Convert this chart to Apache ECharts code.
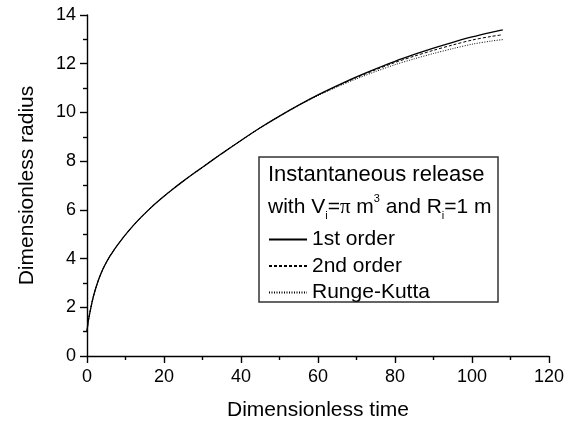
<!DOCTYPE html>
<html>
<head>
<meta charset="utf-8">
<script src="https://cdn.jsdelivr.net/npm/echarts@6/dist/echarts.min.js"></script>
<style>
  html, body { margin: 0; padding: 0; background: #fff; }
  #main { width: 570px; height: 421px; }
</style>
</head>
<body>
<div id="main"></div>
<script>
// dimensionless time values
var times = [0, 0.25, 0.5, 1, 1.5, 2, 3, 4, 5, 6, 7, 8, 9, 10, 12, 14, 16, 18, 20, 22.5, 25, 27.5, 30, 35, 40, 45, 50, 55, 60, 65, 70, 75, 80, 85, 90, 95, 100, 105, 108];
// dimensionless radius
var firstOrder = [1.0, 1.35, 1.58, 1.98, 2.34, 2.64, 3.13, 3.52, 3.84, 4.11, 4.35, 4.57, 4.78, 4.98, 5.35, 5.69, 6.0, 6.29, 6.56, 6.88, 7.18, 7.47, 7.75, 8.31, 8.85, 9.37, 9.85, 10.3, 10.72, 11.1, 11.46, 11.79, 12.1, 12.38, 12.64, 12.88, 13.1, 13.29, 13.39];
var secondOrder = [1.0, 1.35, 1.58, 1.98, 2.34, 2.64, 3.13, 3.52, 3.84, 4.11, 4.35, 4.57, 4.78, 4.98, 5.35, 5.69, 6.0, 6.29, 6.56, 6.88, 7.18, 7.47, 7.75, 8.31, 8.85, 9.37, 9.85, 10.3, 10.71, 11.08, 11.43, 11.75, 12.05, 12.31, 12.55, 12.77, 12.97, 13.12, 13.19];
var rungeKutta = [1.0, 1.35, 1.58, 1.98, 2.34, 2.64, 3.13, 3.52, 3.84, 4.11, 4.35, 4.57, 4.78, 4.98, 5.35, 5.69, 6.0, 6.29, 6.56, 6.88, 7.18, 7.47, 7.75, 8.31, 8.85, 9.37, 9.85, 10.29, 10.69, 11.05, 11.38, 11.68, 11.96, 12.2, 12.42, 12.62, 12.8, 12.93, 12.99];
var seriesNames = ["1st order", "2nd order", "Runge-Kutta"];

function pairs(ys) {
  return times.map(function (t, i) { return [t, ys[i]]; });
}

var font = "Liberation Sans, Arial, sans-serif";
var chart = echarts.init(document.getElementById("main"), null, { renderer: "canvas" });

var axisCommon = {
  axisLine: { onZero: false, lineStyle: { color: "#000", width: 1.4 } },
  axisTick: { inside: false, length: 7, lineStyle: { color: "#000", width: 1.4 } },
  minorTick: { show: true, splitNumber: 2, length: 4, lineStyle: { color: "#000", width: 1.4 } },
  splitLine: { show: false },
  nameTextStyle: { color: "#000", fontFamily: font, fontSize: 21 }
};

var option = {
  backgroundColor: "#fff",
  animation: false,
  grid: { left: 87, right: 21, top: 15, bottom: 65, containLabel: false, outerBoundsMode: "none" },
  xAxis: Object.assign({}, axisCommon, {
    type: "value", min: 0, max: 120, interval: 20,
    name: "Dimensionless time", nameLocation: "middle", nameGap: 44,
    axisLabel: { color: "#000", fontFamily: font, fontSize: 18, margin: 12 }
  }),
  yAxis: Object.assign({}, axisCommon, {
    type: "value", min: 0, max: 14, interval: 2,
    name: "Dimensionless radius", nameLocation: "middle", nameGap: 49,
    axisLabel: { color: "#000", fontFamily: font, fontSize: 18, margin: 11 }
  }),
  legend: {
    orient: "vertical",
    left: 263, top: 224,
    itemWidth: 38, itemHeight: 14, itemGap: 5.5,
    data: seriesNames,
    itemStyle: { opacity: 0 },
    textStyle: { color: "#000", fontFamily: font, fontSize: 21, lineHeight: 20 },
    selectedMode: false
  },
  graphic: [
    {
      type: "rect", z: 0,
      shape: { x: 259, y: 157, width: 239, height: 145 },
      style: { fill: "none", stroke: "#333", lineWidth: 1.5 }
    },
    {
      type: "text", x: 268, y: 175, z: 5,
      style: { text: "Instantaneous release", fill: "#000", font: "22px " + font, verticalAlign: "middle" }
    },
    {
      type: "text", x: 268, y: 207, z: 5,
      style: {
        text: "{n|with V}{sub|i}{n|=}{p|π}{n| m}{sup|3}{n| and R}{sub|i}{n|=1 m}",
        verticalAlign: "middle",
        rich: {
          n: { fontSize: 21, fontFamily: font, fill: "#000", lineHeight: 28, verticalAlign: "middle" },
          p: { fontSize: 21, fontFamily: "Liberation Serif, serif", fill: "#000", lineHeight: 28, verticalAlign: "middle" },
          sub: { fontSize: 11, fontFamily: font, fill: "#000", lineHeight: 11, verticalAlign: "bottom" },
          sup: { fontSize: 11, fontFamily: font, fill: "#000", lineHeight: 11, verticalAlign: "top" }
        }
      }
    }
  ],
  series: [
    {
      name: seriesNames[0], type: "line", data: pairs(firstOrder),
      showSymbol: false, symbol: "none", smooth: 0.3, z: 3,
      lineStyle: { color: "#000", width: 1.3, type: "solid" },
      itemStyle: { color: "#000" }
    },
    {
      name: seriesNames[1], type: "line", data: pairs(secondOrder),
      showSymbol: false, symbol: "none", smooth: 0.3, z: 3,
      lineStyle: { color: "#000", width: 1, type: [3, 2] },
      itemStyle: { color: "#000" }
    },
    {
      name: seriesNames[2], type: "line", data: pairs(rungeKutta),
      showSymbol: false, symbol: "none", smooth: 0.3, z: 3,
      lineStyle: { color: "#000", width: 1, type: [1, 1.5] },
      itemStyle: { color: "#000" }
    }
  ]
};

chart.setOption(option);
</script>
</body>
</html>
